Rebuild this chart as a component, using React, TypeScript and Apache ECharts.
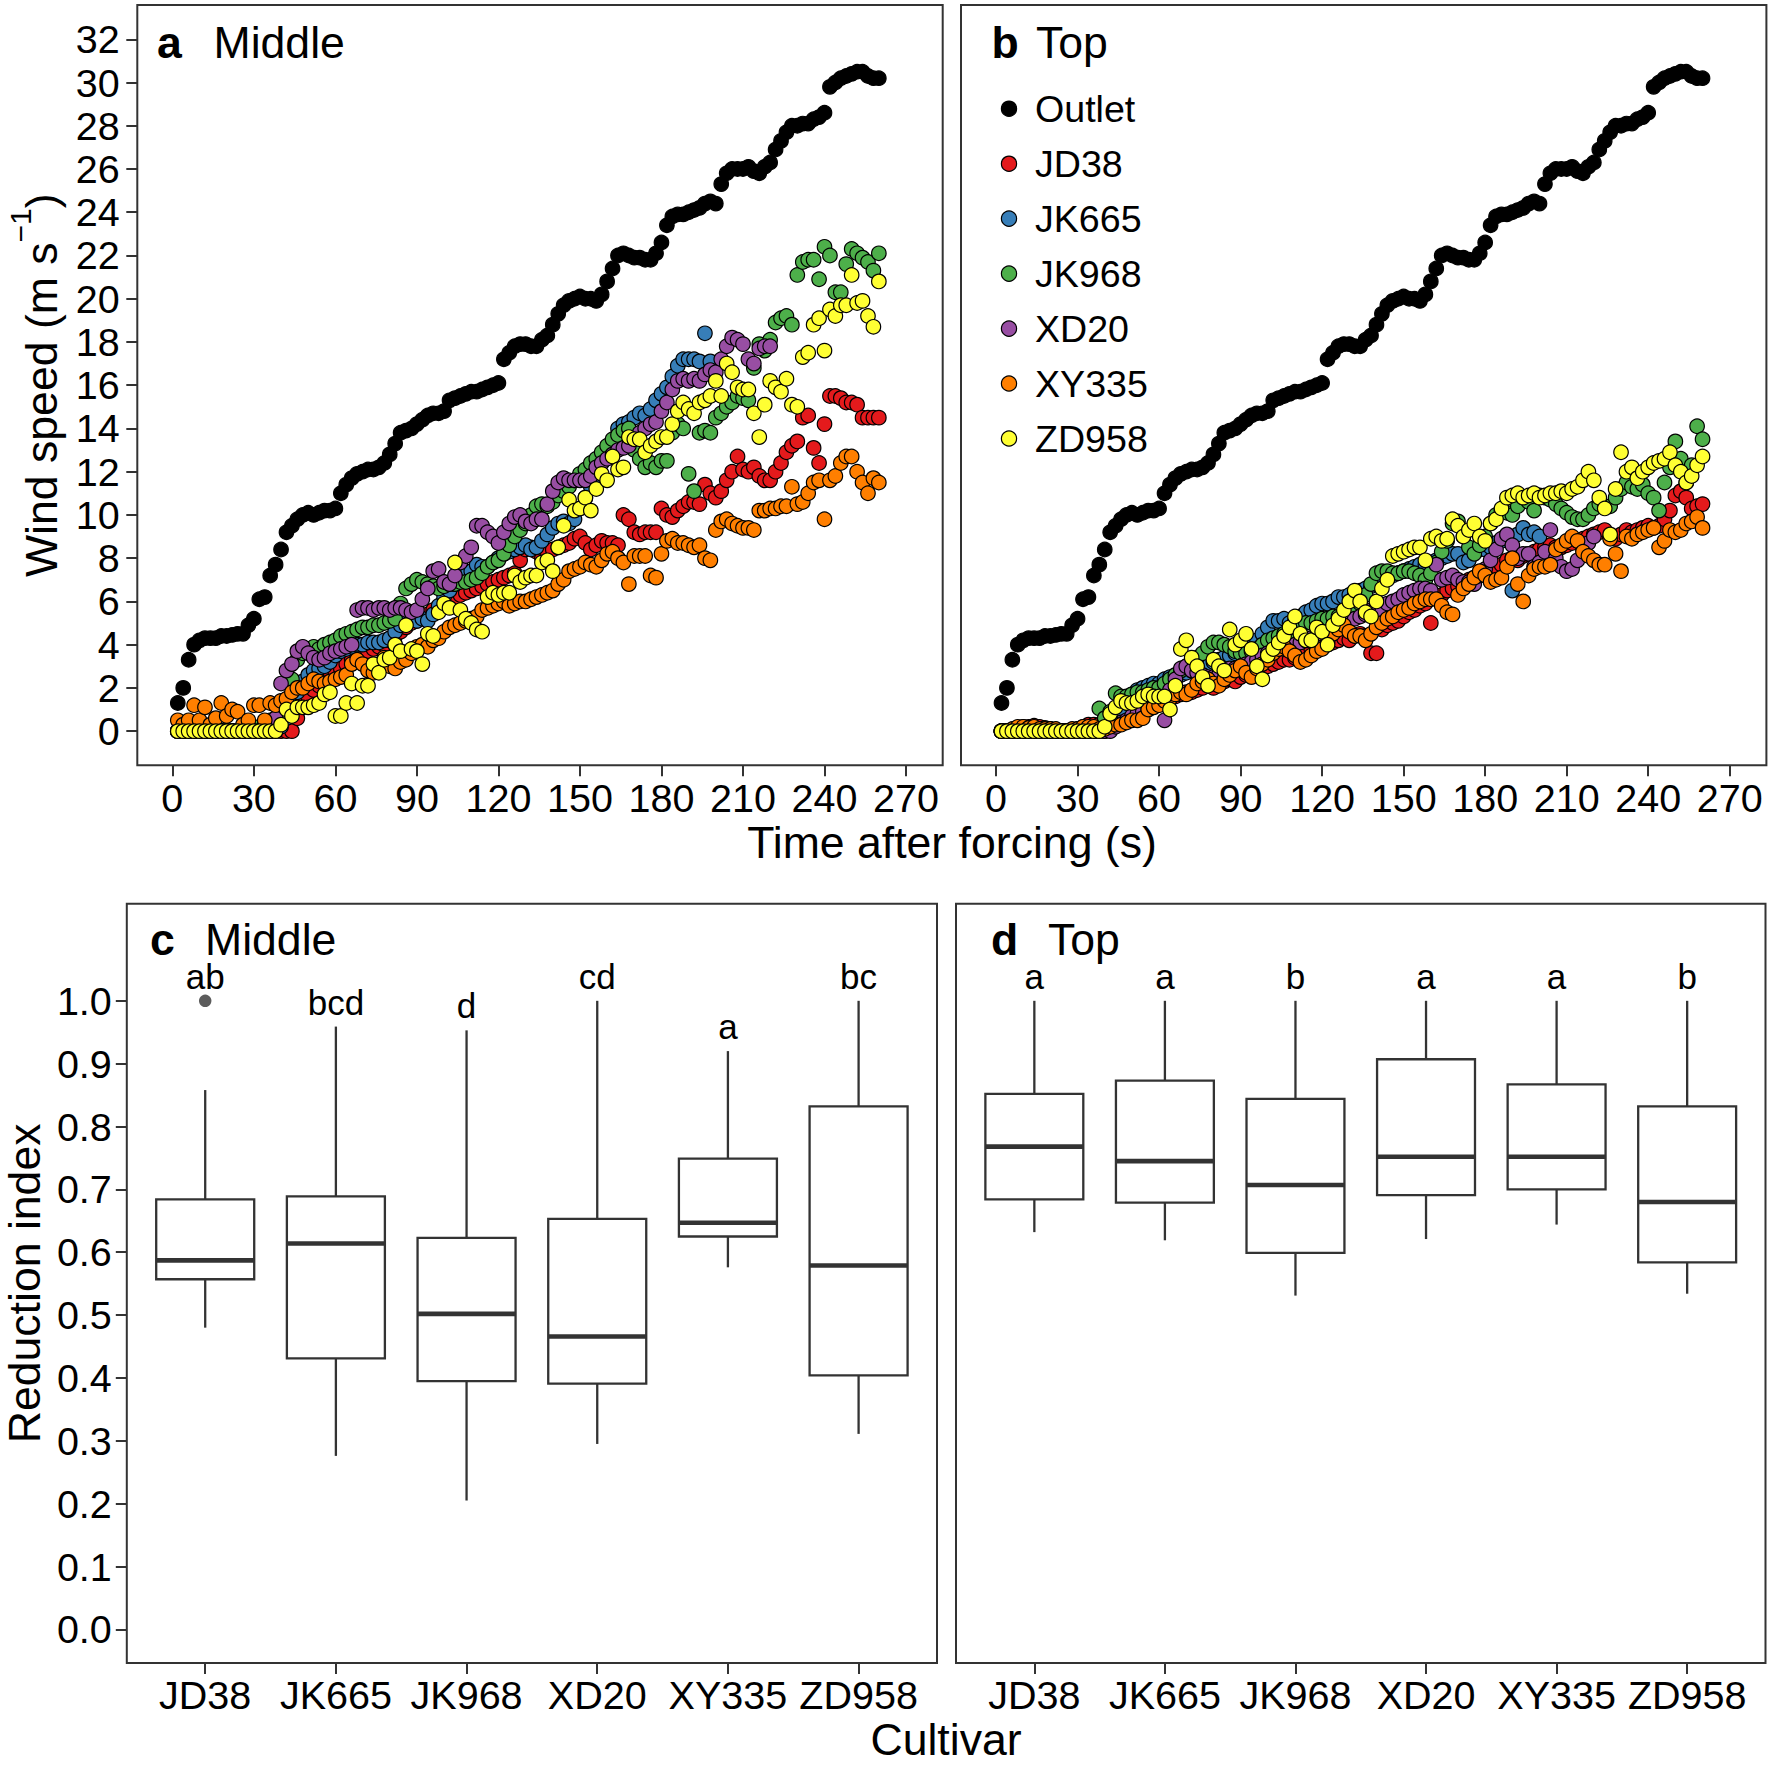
import React, { useEffect, useRef } from 'react';
import * as echarts from 'echarts';

const FF = '"Liberation Sans", Arial, Helvetica, sans-serif';

// ---------- time stamps (s) ----------
const times = [
  2, 4, 6, 8, 10, 12, 14, 16, 18, 20,
  22, 24, 26, 28, 30, 32, 34, 36, 38, 40,
  42, 44, 46, 48, 50, 52, 54, 56, 58, 60,
  62, 64, 66, 68, 70, 72, 74, 76, 78, 80,
  82, 84, 86, 88, 90, 92, 94, 96, 98, 100,
  102, 104, 106, 108, 110, 112, 114, 116, 118, 120,
  122, 124, 126, 128, 130, 132, 134, 136, 138, 140,
  142, 144, 146, 148, 150, 152, 154, 156, 158, 160,
  162, 164, 166, 168, 170, 172, 174, 176, 178, 180,
  182, 184, 186, 188, 190, 192, 194, 196, 198, 200,
  202, 204, 206, 208, 210, 212, 214, 216, 218, 220,
  222, 224, 226, 228, 230, 232, 234, 236, 238, 240,
  242, 244, 246, 248, 250, 252, 254, 256, 258, 260,
];

// ---------- outlet wind speed (m/s) ----------
const outlet = [
  1.3, 2.0, 3.3, 4.0, 4.2, 4.3, 4.3, 4.3, 4.4, 4.4,
  4.45, 4.5, 4.5, 4.9, 5.2, 6.1, 6.2, 7.2, 7.7, 8.4,
  9.2, 9.5, 9.8, 10.0, 10.1, 10.0, 10.1, 10.2, 10.2, 10.3,
  11.0, 11.4, 11.7, 11.9, 12.0, 12.1, 12.1, 12.2, 12.4, 12.8,
  13.3, 13.8, 13.9, 14.0, 14.2, 14.4, 14.6, 14.7, 14.7, 14.8,
  15.3, 15.4, 15.5, 15.6, 15.7, 15.7, 15.8, 15.9, 16.0, 16.1,
  17.2, 17.5, 17.8, 17.9, 17.9, 17.8, 17.8, 18.1, 18.3, 18.8,
  19.3, 19.7, 19.9, 20.0, 20.1, 20.0, 20.0, 19.9, 20.2, 20.8,
  21.4, 22.0, 22.1, 22.0, 21.9, 21.9, 21.8, 21.8, 22.1, 22.6,
  23.4, 23.8, 23.9, 23.9, 24.0, 24.1, 24.2, 24.4, 24.5, 24.4,
  25.3, 25.8, 26.0, 26.0, 26.0, 26.1, 25.9, 25.8, 26.1, 26.3,
  26.9, 27.3, 27.7, 28.0, 28.0, 28.1, 28.1, 28.3, 28.4, 28.6,
  29.8, 30.0, 30.2, 30.3, 30.4, 30.5, 30.5, 30.3, 30.2, 30.2,
];

// ---------- Middle position ----------
const middleJD38 = [
  0, 0, 0, 0, 0, 0, 0, 0, 0, 0,
  0, 0, 0, 0, 0, 0, 0, 0, 0, 0,
  0, 0, 0.6, 1.2, 1.6, 1.9, 2.1, 2.3, 2.5, 2.7,
  2.9, 3.1, 3.3, 3.4, 3.5, 3.7, 3.8, 3.9, 4.0, 4.2,
  4.4, 4.6, 4.8, 5.0, 5.1, 5.3, 5.4, 5.6, 5.7, 5.8,
  6.0, 6.1, 6.3, 6.4, 6.5, 6.6, 6.7, 6.8, 6.9, 7.0,
  7.1, 7.2, 7.3, 7.9, 8.4, 8.5, 8.3, 8.0, 8.2, 8.4,
  8.5, 8.6, 8.7, 8.9, 9.0, 8.7, 8.4, 8.6, 8.8, 8.7,
  8.7, 8.6, 10.0, 9.8, 9.2, 9.1, 9.2, 9.2, 9.2, 10.3,
  10.0, 9.9, 10.2, 10.4, 10.6, 10.6, 10.5, 11.4, 11.0, 10.8,
  11.1, 11.6, 12.0, 12.7, 12.1, 12.0, 12.2, 11.8, 11.6, 11.6,
  12.0, 12.4, 12.9, 13.2, 13.4, 14.5, 14.6, 13.1, 12.4, 14.2,
  15.5, 15.5, 15.4, 15.2, 15.2, 15.1, 14.5, 14.5, 14.5, 14.5,
];
const middleJK665 = [
  0, 0, 0, 0, 0, 0, 0, 0, 0, 0,
  0, 0, 0, 0, 0, 0, 0, 0, 0, 0.2,
  0.6, 1.2, 1.8, 2.3, 2.6, 2.8, 2.9, 3.0, 3.2, 3.5,
  3.7, 3.8, 3.9, 4.0, 4.0, 4.1, 4.1, 4.1, 4.2, 4.3,
  4.6, 4.9, 5.1, 5.2, 5.1, 5.2, 5.1, 5.4, 5.8, 6.2,
  6.5, 6.8, 7.0, 7.2, 7.4, 7.7, 7.6, 7.6, 7.8, 8.0,
  8.2, 8.3, 8.4, 8.5, 8.6, 8.4, 8.5, 8.8, 9.1, 9.4,
  9.6, 9.7, 9.6, 9.8, 10.3, 10.8, 11.3, 11.8, 12.4, 12.9,
  13.4, 14.0, 14.2, 14.3, 14.5, 14.7, 14.6, 14.9, 15.3, 15.6,
  15.9, 16.4, 16.9, 17.2, 17.2, 17.2, 17.1, 18.4, 17.1,
];
const middleJK968 = [
  0, 0, 0, 0, 0, 0, 0, 0, 0, 0,
  0, 0, 0, 0, 0, 0.2, 0.3, 0.5, 0.5, 0.6,
  1.2, 2.4, 3.3, 3.6, 3.8, 3.9, 3.8, 4.0, 4.1, 4.2,
  4.4, 4.5, 4.6, 4.7, 4.8, 4.8, 4.9, 4.9, 5.0, 5.1,
  5.2, 5.9, 6.6, 6.8, 7.0, 6.9, 6.8, 6.7, 6.6, 6.7,
  6.8, 6.8, 6.9, 6.9, 7.0, 7.1, 7.3, 7.6, 7.8, 7.9,
  8.2, 8.6, 9.0, 9.3, 9.6, 10.0, 10.4, 10.5, 10.4, 10.6,
  10.9, 11.1, 11.3, 11.6, 11.9, 12.1, 12.4, 12.6, 12.9, 13.2,
  13.5, 13.7, 13.9, 14.0, 13.0, 12.6, 12.2, 12.4, 12.2, 12.5,
  12.5, 13.8, 14.2, 14.0, 11.9, 11.1, 13.8, 13.9, 13.8, 14.5,
  14.7, 15.0, 15.2, 15.5, 15.4, 15.3, 16.8, 17.9, 17.6, 18.1,
  18.9, 19.1, 19.2, 18.8, 21.1, 21.7, 21.8, 21.8, 20.9, 22.4,
  22.0, 20.3, 20.3, 21.6, 22.3, 22.1, 21.9, 21.7, 21.3, 22.1,
];
const middleXD20 = [
  0, 0, 0, 0, 0, 0, 0, 0, 0, 0,
  0, 0, 0, 0, 0, 0, 0, 0, 0.6, 2.2,
  2.8, 3.1, 3.7, 3.9, 3.6, 3.4, 3.3, 3.4, 3.6, 3.7,
  3.8, 3.9, 4.0, 5.6, 5.7, 5.7, 5.6, 5.7, 5.7, 5.6,
  5.7, 5.7, 5.6, 5.5, 5.6, 6.1, 6.6, 7.4, 7.5, 6.9,
  6.8, 7.2, 7.8, 8.1, 8.5, 9.5, 9.5, 9.2, 9.0, 8.7,
  9.2, 9.6, 9.9, 10.0, 9.7, 9.6, 9.8, 9.8, 10.5, 11.1,
  11.5, 11.7, 11.6, 11.6, 11.6, 11.6, 11.8, 12.2, 12.4, 12.6,
  12.8, 13.0, 13.1, 13.2, 13.5, 13.8, 14.0, 14.2, 14.3, 14.8,
  15.2, 15.8, 16.2, 16.3, 16.2, 16.3, 16.2, 16.5, 16.7, 16.6,
  17.2, 17.8, 18.2, 18.1, 17.9, 17.2, 17.0, 17.7, 17.8, 17.8,
];
const middleXY335 = [
  0.5, 0.3, 0.5, 1.2, 0.5, 1.1, 0.3, 0.6, 1.3, 0.7,
  1.0, 0.9, 0.3, 0.5, 1.2, 1.2, 0.5, 1.3, 1.2, 1.4,
  1.5, 1.8, 2.0, 2.0, 2.2, 2.4, 2.3, 2.2, 2.3, 2.4,
  2.5, 2.6, 3.1, 3.3, 3.1, 2.8, 2.7, 3.0, 3.4, 3.0,
  2.9, 3.2, 3.3, 3.6, 3.9, 4.0, 3.9, 4.2, 4.3, 4.6,
  4.8, 4.9, 5.0, 5.1, 5.2, 5.3, 5.6, 5.7, 5.8, 5.9,
  6.0, 5.8, 5.9, 6.0, 6.0, 6.1, 6.2, 6.3, 6.4, 6.5,
  6.8, 7.0, 7.4, 7.5, 7.6, 7.8, 7.7, 7.6, 7.9, 8.2,
  8.3, 8.0, 7.8, 6.8, 8.1, 8.1, 8.1, 7.2, 7.1, 8.2,
  8.8, 8.9, 8.7, 8.7, 8.6, 8.5, 8.6, 8.0, 7.9, 9.3,
  9.7, 9.8, 9.6, 9.5, 9.4, 9.4, 9.3, 10.2, 10.2, 10.3,
  10.3, 10.4, 10.4, 11.3, 10.5, 10.6, 11.0, 11.5, 11.6, 9.8,
  11.6, 11.8, 12.4, 12.7, 12.7, 12.0, 11.5, 11.0, 11.7, 11.5,
];
const middleZD958 = [
  0, 0, 0, 0, 0, 0, 0, 0, 0, 0,
  0, 0, 0, 0, 0, 0, 0, 0, 0, 0.3,
  1.0, 0.7, 1.1, 1.1, 1.1, 1.2, 1.3, 1.7, 1.8, 0.7,
  0.7, 1.3, 2.2, 1.3, 2.1, 2.1, 3.1, 2.7, 3.3, 3.4,
  4.0, 3.7, 4.9, 3.8, 3.7, 3.1, 4.5, 4.4, 5.5, 5.9,
  5.7, 7.8, 5.6, 5.2, 5.0, 4.7, 4.6, 6.2, 6.4, 6.3,
  6.4, 6.4, 7.2, 6.9, 7.1, 7.2, 7.2, 7.8, 7.9, 7.4,
  8.5, 9.5, 10.7, 10.2, 10.3, 10.8, 10.2, 11.2, 11.9, 11.6,
  12.7, 12.1, 12.2, 13.6, 13.5, 13.5, 12.9, 13.2, 13.4, 13.6,
  13.6, 14.2, 14.8, 15.2, 14.9, 14.7, 15.2, 15.3, 15.5, 16.2,
  15.5, 17.0, 16.6, 15.9, 15.8, 15.8, 14.7, 13.6, 15.1, 16.2,
  15.9, 15.7, 16.3, 15.1, 15.0, 17.3, 17.5, 18.8, 19.1, 17.6,
  19.5, 19.2, 19.7, 19.7, 21.1, 19.8, 19.9, 19.2, 18.7, 20.8,
];

// ---------- Top position ----------
const topJD38 = [
  0, 0, 0, 0.1, 0.2, 0.2, 0.25, 0.2, 0.15, 0.1,
  0, 0, 0, 0, 0.1, 0.2, 0.3, 0.3, 0.3, 0.4,
  0.4, 0.4, 0.5, 0.6, 0.7, 0.8, 0.9, 1.0, 1.2, 1.3,
  1.4, 1.5, 1.6, 1.7, 1.8, 1.8, 1.9, 2.0, 2.1, 2.0,
  2.2, 2.3, 2.4, 2.3, 2.5, 2.6, 2.7, 2.7, 2.9, 3.0,
  3.1, 3.2, 3.3, 3.3, 3.4, 3.6, 3.7, 3.8, 3.9, 4.0,
  4.0, 4.1, 4.2, 4.3, 4.2, 4.4, 4.5, 4.4, 3.6, 3.6,
  4.7, 4.9, 5.0, 5.1, 5.3, 5.5, 5.6, 5.8, 5.9, 5.0,
  6.2, 6.3, 6.5, 6.6, 6.7, 6.9, 7.0, 7.1, 7.2, 7.3,
  7.4, 7.6, 7.7, 7.9, 8.0, 7.9, 8.1, 8.2, 8.3, 8.4,
  8.5, 8.6, 8.5, 8.5, 8.6, 8.7, 8.8, 8.9, 9.0, 9.1,
  9.2, 9.3, 9.0, 8.9, 9.1, 9.3, 9.2, 9.3, 9.4, 9.5,
  9.4, 9.5, 9.8, 10.2, 10.9, 11.1, 10.8, 10.3, 10.4, 10.5,
];
const topJK665 = [
  0, 0, 0, 0, 0, 0, 0, 0, 0, 0,
  0, 0, 0, 0, 0, 0, 0, 0, 0, 0,
  0.2, 0.5, 0.9, 1.3, 1.7, 1.9, 2.0, 2.1, 2.2, 2.2,
  2.4, 2.5, 2.4, 2.6, 2.7, 2.8, 2.9, 3.0, 3.1, 3.2,
  3.3, 3.4, 3.5, 3.6, 3.7, 3.8, 4.0, 4.2, 4.5, 4.8,
  5.1, 5.1, 5.2, 5.0, 5.1, 5.3, 5.5, 5.6, 5.8, 5.9,
  5.9, 6.0, 6.2, 6.2, 6.3, 6.4, 6.5, 6.6, 6.7, 6.8,
  7.0, 7.1, 7.2, 7.3, 7.4, 7.5, 7.6, 7.7, 7.7, 7.8,
  7.9, 8.0, 8.1, 8.2, 8.2, 7.8, 7.9, 8.3, 8.4, 8.4,
  8.5, 8.7, 8.8, 8.9, 6.5, 9.1, 9.4, 9.1, 9.2, 9.0,
];
const topJK968 = [
  0, 0, 0, 0, 0, 0, 0, 0, 0, 0,
  0, 0, 0, 0, 0, 0, 0, 0, 1.05, 0.6,
  0.9, 1.75, 1.6, 1.6, 1.7, 1.8, 1.8, 1.9, 2.0, 2.0,
  2.2, 2.4, 2.6, 2.8, 3.0, 3.2, 3.4, 3.6, 3.9, 4.1,
  4.1, 4.0, 3.9, 3.7, 3.6, 3.6, 3.7, 3.8, 4.0, 4.2,
  4.3, 4.4, 4.5, 4.6, 4.8, 4.9, 5.0, 5.0, 5.1, 5.2,
  5.2, 5.3, 5.3, 5.4, 5.5, 5.7, 5.9, 6.3, 6.8, 7.3,
  7.4, 7.4, 7.3, 7.3, 7.4, 7.4, 7.3, 7.2, 7.0, 7.3,
  7.8, 8.3, 8.8, 9.6, 9.7, 9.0, 8.5, 8.2, 8.6, 9.0,
  9.6, 10.0, 10.2, 10.1, 10.0, 10.4, 10.8, 10.6, 10.2, 10.9,
  10.8, 10.7, 10.5, 10.3, 10.1, 9.9, 9.8, 9.8, 10.0, 10.3,
  10.5, 10.4, 10.4, 10.8, 11.2, 11.5, 11.3, 11.2, 11.4, 11.0,
  10.8, 10.2, 11.5, 12.2, 13.4, 12.6, 11.5, 12.3, 14.1, 13.5,
];
const topXD20 = [
  0, 0, 0, 0, 0, 0, 0, 0, 0, 0,
  0, 0, 0, 0, 0, 0, 0, 0, 0, 0,
  0, 0.2, 0.4, 0.5, 0.7, 0.8, 0.9, 1.0, 1.2, 1.3,
  0.5, 1.9, 2.4, 2.9, 3.0, 2.8, 2.7, 2.6, 2.5, 2.5,
  2.6, 2.8, 2.9, 2.9, 3.0, 3.1, 3.2, 3.3, 3.5, 3.6,
  3.7, 3.8, 3.8, 3.9, 4.0, 4.1, 4.2, 4.3, 4.4, 4.5,
  4.6, 4.7, 4.8, 5.0, 5.1, 5.2, 5.3, 5.4, 5.6, 5.8,
  5.5, 5.9, 6.0, 6.1, 6.3, 6.4, 6.5, 6.6, 6.6, 6.5,
  7.7, 7.0, 7.1, 7.2, 7.0, 6.9, 6.9, 6.8, 7.2, 7.5,
  7.9, 8.4, 8.9, 9.1, 8.6, 8.0, 8.2, 8.2, 7.6, 7.8,
  8.3, 9.3, 8.0, 7.6, 7.4, 7.5, 7.9, 8.4, 8.7, 9.0,
];
const topXY335 = [
  0, 0, 0.1, 0.2, 0.2, 0.15, 0.2, 0.1, 0.1, 0.1,
  0.1, 0, 0, 0.1, 0.1, 0.2, 0.2, 0.2, 0.1, 0.1,
  0.2, 0.3, 0.3, 0.4, 0.5, 0.5, 0.6, 1.0, 1.1, 1.2,
  1.4, 1.5, 1.7, 1.8, 1.7, 1.9, 2.2, 2.3, 2.4, 2.2,
  2.1, 2.4, 2.6, 2.8, 3.0, 2.7, 2.5, 2.9, 3.1, 3.3,
  3.6, 3.8, 3.9, 3.7, 3.5, 3.2, 3.3, 3.5, 3.7, 3.8,
  4.1, 4.5, 4.7, 4.9, 4.6, 4.4, 4.4, 4.2, 4.5, 4.8,
  5.0, 5.2, 5.3, 5.5, 5.6, 5.7, 5.9, 6.0, 6.1, 6.1,
  6.1, 5.8, 5.5, 5.4, 6.3, 6.6, 6.8, 7.1, 7.4, 7.2,
  6.9, 7.0, 7.1, 7.6, 8.0, 6.8, 6.0, 7.2, 7.5, 7.6,
  7.6, 7.7, 8.4, 8.6, 8.8, 9.0, 8.8, 8.3, 8.1, 7.9,
  7.7, 7.7, 8.9, 8.2, 7.4, 9.0, 8.9, 9.1, 9.2, 9.3,
  9.4, 8.5, 8.8, 9.3, 9.2, 9.3, 9.6, 9.7, 9.9, 9.4,
];
const topZD958 = [
  0, 0, 0, 0, 0, 0, 0, 0, 0, 0,
  0, 0, 0, 0, 0, 0, 0, 0, 0, 0.2,
  0.8, 1.1, 1.4, 1.3, 1.3, 1.4, 1.6, 1.7, 1.6, 1.6,
  1.6, 1.0, 2.1, 3.8, 4.2, 3.4, 3.0, 2.5, 2.1, 3.3,
  3.0, 2.8, 4.7, 4.0, 4.2, 4.5, 3.8, 3.0, 2.4, 3.5,
  3.8, 4.1, 4.4, 4.8, 5.3, 4.5, 4.2, 4.2, 4.8, 4.6,
  4.0, 4.9, 5.2, 5.6, 6.0, 6.5, 6.0, 5.5, 5.3, 6.0,
  6.6, 7.0, 8.1, 8.2, 8.3, 8.4, 8.5, 8.5, 7.9, 8.9,
  9.0, 8.8, 8.9, 9.8, 9.5, 9.0, 9.3, 9.6, 9.0, 8.8,
  9.6, 9.8, 10.3, 10.8, 10.9, 11.0, 10.8, 10.9, 11.0, 10.8,
  10.9, 11.0, 11.0, 11.1, 11.0, 11.2, 11.3, 11.6, 12.0, 11.6,
  10.8, 10.3, 9.1, 11.2, 12.9, 12.0, 12.2, 11.7, 12.0, 12.2,
  12.4, 12.5, 12.6, 12.9, 12.3, 12.0, 11.5, 11.8, 12.3, 12.7,
];

// ---------- categories / boxplot statistics (reduction index) ----------
const cultivars = ['JD38', 'JK665', 'JK968', 'XD20', 'XY335', 'ZD958'];
const cultivarColors = ['#E41A1C', '#377EB8', '#4DAF4A', '#984EA3', '#FF7F00', '#FFFF33'];

const middleLow = [0.48, 0.276, 0.205, 0.295, 0.576, 0.311];
const middleQ1 = [0.557, 0.431, 0.395, 0.391, 0.625, 0.404];
const middleMedian = [0.587, 0.614, 0.502, 0.466, 0.647, 0.579];
const middleQ3 = [0.684, 0.689, 0.623, 0.653, 0.749, 0.832];
const middleHigh = [0.858, 0.959, 0.953, 1.0, 0.92, 1.0];
const middleOutliers = [[1, 1.0]];
const middleLetters = ['ab', 'bcd', 'd', 'cd', 'a', 'bc'];

const topLow = [0.632, 0.619, 0.531, 0.621, 0.644, 0.534];
const topQ1 = [0.684, 0.679, 0.599, 0.691, 0.7, 0.584];
const topMedian = [0.768, 0.745, 0.707, 0.752, 0.752, 0.68];
const topQ3 = [0.852, 0.873, 0.844, 0.907, 0.867, 0.832];
const topHigh = [1.0, 1.0, 1.0, 1.0, 1.0, 1.0];
const topLetters = ['a', 'a', 'b', 'a', 'a', 'b'];

// ---------- tick labels ----------
const timeTicks = [0, 30, 60, 90, 120, 150, 180, 210, 240, 270];
const windTicks = [0, 2, 4, 6, 8, 10, 12, 14, 16, 18, 20, 22, 24, 26, 28, 30, 32];
const indexTicks = [0, 0.1, 0.2, 0.3, 0.4, 0.5, 0.6, 0.7, 0.8, 0.9, 1.0];
const cultivarTicks = [1, 2, 3, 4, 5, 6];
const legendNames = ['Outlet', ...cultivars];
const legendColors = ['#000000', ...cultivarColors];

const middleSeriesValues = [middleJD38, middleJK665, middleJK968, middleXD20, middleXY335, middleZD958];
const topSeriesValues = [topJD38, topJK665, topJK968, topXD20, topXY335, topZD958];

const INK = '#333333';

function pairs(vals: number[]) {
  return vals.map((v, i) => [times[i], v]);
}

function scatterSeries(name: string, vals: number[], color: string, idx: number) {
  return {
    type: 'scatter',
    name,
    xAxisIndex: idx,
    yAxisIndex: idx,
    data: pairs(vals),
    symbol: 'circle',
    symbolSize: 14.5,
    silent: true,
    itemStyle: { color, borderColor: '#000', borderWidth: 1.2, opacity: 1 },
    emphasis: { disabled: true },
  };
}

function boxSeries(idx: number, lo: number[], q1: number[], med: number[], q3: number[], hi: number[]) {
  return {
    type: 'custom',
    xAxisIndex: idx,
    yAxisIndex: idx,
    silent: true,
    data: cultivars.map((_, i) => [i + 1, lo[i], q1[i], med[i], q3[i], hi[i]]),
    encode: { x: 0, y: [1, 2, 3, 4, 5] },
    renderItem: (params: any, api: any) => {
      const x = api.value(0);
      const pLo = api.coord([x, api.value(1)]);
      const pQ1 = api.coord([x, api.value(2)]);
      const pMed = api.coord([x, api.value(3)]);
      const pQ3 = api.coord([x, api.value(4)]);
      const pHi = api.coord([x, api.value(5)]);
      const half = api.size([0.75, 0])[0] / 2;
      const ls = { stroke: INK, lineWidth: 2.3, fill: null };
      return {
        type: 'group',
        children: [
          { type: 'line', shape: { x1: pHi[0], y1: pHi[1], x2: pQ3[0], y2: pQ3[1] }, style: ls },
          { type: 'line', shape: { x1: pQ1[0], y1: pQ1[1], x2: pLo[0], y2: pLo[1] }, style: ls },
          {
            type: 'rect',
            shape: { x: pQ3[0] - half, y: pQ3[1], width: half * 2, height: pQ1[1] - pQ3[1] },
            style: { stroke: INK, lineWidth: 2.3, fill: '#ffffff' },
          },
          {
            type: 'line',
            shape: { x1: pMed[0] - half, y1: pMed[1], x2: pMed[0] + half, y2: pMed[1] },
            style: { stroke: INK, lineWidth: 4.6 },
          },
        ],
      };
    },
  };
}

function letterSeries(idx: number, hi: number[], outliers: number[][], letters: string[]) {
  const data = cultivars.map((_, i) => {
    let top = hi[i];
    outliers.forEach((o) => {
      if (o[0] === i + 1 && o[1] > top) top = o[1];
    });
    return [i + 1, top];
  });
  return {
    type: 'custom',
    xAxisIndex: idx,
    yAxisIndex: idx,
    silent: true,
    data,
    renderItem: (params: any, api: any) => {
      const p = api.coord([api.value(0), api.value(1)]);
      return {
        type: 'text',
        x: p[0],
        y: p[1] - 24.5,
        style: {
          text: letters[params.dataIndex],
          fontSize: 35,
          fontFamily: FF,
          fill: '#000',
          align: 'center',
          verticalAlign: 'middle',
        },
      };
    },
  };
}

const tickStyle = { length: 11, lineStyle: { color: INK, width: 2 } };
const labelBase = { fontSize: 39.5, color: '#000', fontFamily: FF };
const hiddenLine = { show: false, onZero: false };

function timeAxis(gridIndex: number) {
  return {
    gridIndex,
    type: 'value',
    position: 'bottom',
    min: -12.9,
    max: 283.5,
    axisLine: hiddenLine,
    splitLine: { show: false },
    axisTick: { show: true, customValues: timeTicks, ...tickStyle },
    axisLabel: { show: true, customValues: timeTicks, margin: 13, ...labelBase },
  };
}

function cultivarAxis(gridIndex: number) {
  return {
    gridIndex,
    type: 'value',
    position: 'bottom',
    min: 0.4,
    max: 6.6,
    axisLine: hiddenLine,
    splitLine: { show: false },
    axisTick: { show: true, customValues: cultivarTicks, ...tickStyle },
    axisLabel: {
      show: true,
      customValues: cultivarTicks,
      margin: 12,
      formatter: (v: number) => cultivars[Math.round(v) - 1] || '',
      ...labelBase,
    },
  };
}

function titleText(x: number, y: number, text: string, bold: boolean, size = 44.6) {
  return {
    type: 'text',
    x,
    y,
    silent: true,
    style: {
      text,
      fontSize: size,
      fontWeight: bold ? 'bold' : 'normal',
      fontFamily: FF,
      fill: '#000',
      align: 'left',
      verticalAlign: 'middle',
    },
  };
}

export default function App() {
  const ref = useRef<HTMLDivElement>(null);

  useEffect(() => {
    if (!ref.current) return;
    const chart = echarts.init(ref.current, undefined, { renderer: 'svg' });

    const legendY = [108.7, 163.7, 218.6, 273.6, 328.6, 383.5, 438.5];
    const legendGraphics: any[] = [];
    legendNames.forEach((n, i) => {
      legendGraphics.push({
        type: 'circle',
        silent: true,
        shape: { cx: 1009, cy: legendY[i], r: 7.6 },
        style: { fill: legendColors[i], stroke: '#000', lineWidth: 1.2 },
      });
      legendGraphics.push({
        type: 'text',
        silent: true,
        x: 1035,
        y: legendY[i] + 0.5,
        style: { text: n, fontSize: 37.6, fontFamily: FF, fill: '#000', align: 'left', verticalAlign: 'middle' },
      });
    });

    const series: any[] = [];
    series.push(scatterSeries('Outlet', outlet, '#000000', 0));
    middleSeriesValues.forEach((vals, i) => series.push(scatterSeries(cultivars[i], vals, cultivarColors[i], 0)));
    series.push(scatterSeries('Outlet', outlet, '#000000', 1));
    topSeriesValues.forEach((vals, i) => series.push(scatterSeries(cultivars[i], vals, cultivarColors[i], 1)));

    series.push(boxSeries(2, middleLow, middleQ1, middleMedian, middleQ3, middleHigh));
    series.push({
      type: 'scatter',
      xAxisIndex: 2,
      yAxisIndex: 2,
      data: middleOutliers,
      symbol: 'circle',
      symbolSize: 12.5,
      silent: true,
      itemStyle: { color: INK, borderWidth: 0 },
    });
    series.push(letterSeries(2, middleHigh, middleOutliers, middleLetters));
    series.push(boxSeries(3, topLow, topQ1, topMedian, topQ3, topHigh));
    series.push(letterSeries(3, topHigh, [], topLetters));

    const gridStyle = { show: true, borderColor: INK, borderWidth: 2, backgroundColor: 'transparent' };

    const valueY = (gridIndex: number, min: number, max: number, ticks: number[] | null, margin: number, fmt?: (v: number) => string) => ({
      gridIndex,
      type: 'value',
      position: 'left',
      min,
      max,
      axisLine: hiddenLine,
      splitLine: { show: false },
      axisTick: ticks ? { show: true, customValues: ticks, ...tickStyle } : { show: false },
      axisLabel: ticks
        ? { show: true, customValues: ticks, margin, ...(fmt ? { formatter: fmt } : {}), ...labelBase }
        : { show: false },
    });

    chart.setOption({
      animation: false,
      backgroundColor: '#ffffff',
      grid: [
        { left: 137.3, top: 5.1, width: 805.4, height: 760.2, ...gridStyle },
        { left: 961, top: 5.1, width: 805.4, height: 760.2, ...gridStyle },
        { left: 126.8, top: 903.7, width: 810.2, height: 759.3, ...gridStyle },
        { left: 956, top: 903.7, width: 809.5, height: 759.3, ...gridStyle },
      ],
      xAxis: [timeAxis(0), timeAxis(1), cultivarAxis(2), cultivarAxis(3)],
      yAxis: [
        valueY(0, -1.58, 33.58, windTicks, 17.5),
        valueY(1, -1.58, 33.58, null, 0),
        valueY(2, -0.0535, 1.1545, indexTicks, 15, (v: number) => v.toFixed(1)),
        valueY(3, -0.0535, 1.1545, null, 0),
      ],
      series,
      graphic: [
        titleText(157, 42, 'a', true),
        titleText(213.5, 42, 'Middle', false),
        titleText(991.5, 42, 'b', true),
        titleText(1036, 42, 'Top', false),
        titleText(150, 939.5, 'c', true),
        titleText(205, 939.5, 'Middle', false),
        titleText(991, 939.5, 'd', true),
        titleText(1048, 939.5, 'Top', false),
        ...legendGraphics,
        {
          type: 'text',
          silent: true,
          x: 952,
          y: 842.9,
          style: {
            text: 'Time after forcing (s)',
            fontSize: 44.6,
            fontFamily: FF,
            fill: '#000',
            align: 'center',
            verticalAlign: 'middle',
          },
        },
        {
          type: 'text',
          silent: true,
          x: 946,
          y: 1739,
          style: { text: 'Cultivar', fontSize: 44.6, fontFamily: FF, fill: '#000', align: 'center', verticalAlign: 'middle' },
        },
        {
          type: 'text',
          silent: true,
          x: 24.4,
          y: 1283.4,
          rotation: Math.PI / 2,
          style: {
            text: 'Reduction index',
            fontSize: 44.6,
            fontFamily: FF,
            fill: '#000',
            align: 'center',
            verticalAlign: 'middle',
          },
        },
        {
          type: 'text',
          silent: true,
          x: 34.5,
          y: 385.2,
          rotation: Math.PI / 2,
          style: {
            text: '{n|Wind speed (m s}{s|−1}{n|)}',
            fontFamily: FF,
            fill: '#000',
            align: 'center',
            verticalAlign: 'middle',
            rich: {
              n: { fontSize: 44.6, lineHeight: 58, fontFamily: FF, fill: '#000', verticalAlign: 'bottom' },
              s: { fontSize: 30, lineHeight: 30, fontFamily: FF, fill: '#000', verticalAlign: 'top' },
            },
          },
        },
      ],
    });

    return () => {
      chart.dispose();
    };
  }, []);

  return (
    <div
      ref={ref}
      style={{ position: 'absolute', left: 0, top: 0, width: '1772px', height: '1765px', background: '#fff' }}
    />
  );
}
